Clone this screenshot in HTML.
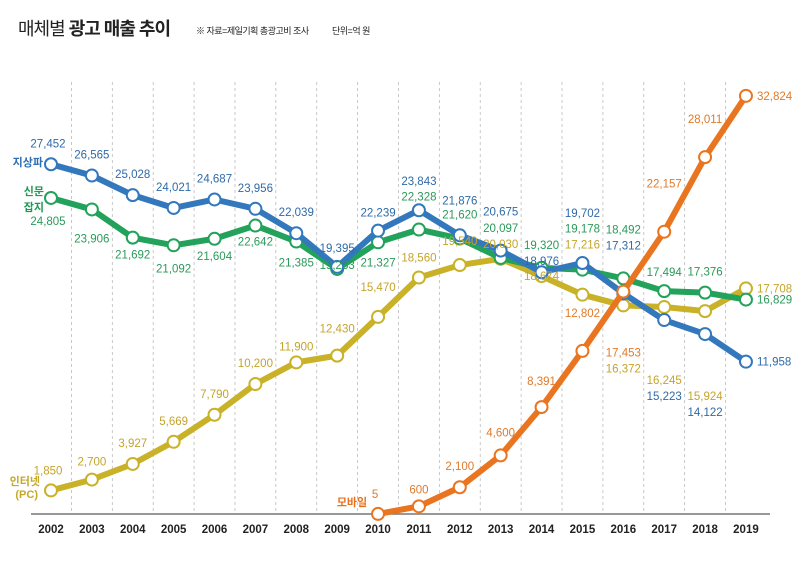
<!DOCTYPE html>
<html><head><meta charset="utf-8"><style>
html,body{margin:0;padding:0;background:#fff;}
body{width:800px;height:566px;overflow:hidden;font-family:"Liberation Sans","Noto Sans CJK KR",sans-serif;}
</style></head><body>
<svg id="chart" width="800" height="566" viewBox="0 0 800 566" xmlns="http://www.w3.org/2000/svg" font-family="Liberation Sans, Noto Sans CJK KR, sans-serif">
<text x="18" y="35" font-size="18" fill="#222" style="letter-spacing:-1px">매체별 <tspan font-weight="bold">광고 매출 추이</tspan></text>
<text x="196" y="34" font-size="9" fill="#222" style="letter-spacing:-0.5px">※ 자료=제일기획 총광고비 조사</text>
<text x="332" y="34" font-size="9" fill="#222" style="letter-spacing:-0.5px">단위=억 원</text>
<g id="grid"></g>
<line x1="31" y1="514" x2="770" y2="514" stroke="#777" stroke-width="1.5"/>
<g id="xticks"></g>
<g id="series"></g>
<g id="labels"></g>
<text x="43" y="166" font-size="11" font-weight="bold" fill="#2f6fb4" text-anchor="end">지상파</text>
<text x="44" y="195" font-size="11" font-weight="bold" fill="#1f9a55" text-anchor="end">신문</text>
<text x="44" y="211" font-size="11" font-weight="bold" fill="#1f9a55" text-anchor="end">잡지</text>
<text x="40" y="485" font-size="11" font-weight="bold" fill="#c4a828" text-anchor="end">인터넷</text>
<text x="38" y="498" font-size="11" font-weight="bold" fill="#c4a828" text-anchor="end">(PC)</text>
<text x="352" y="506" font-size="11" font-weight="bold" fill="#e8731e" text-anchor="middle">모바일</text>
</svg>
<script>
const years = [2002,2003,2004,2005,2006,2007,2008,2009,2010,2011,2012,2013,2014,2015,2016,2017,2018,2019];
const tvValues = [27452,26565,25028,24021,24687,23956,22039,19395,22239,23843,21876,20675,18976,19702,17312,15223,14122,11958];
const printValues = [24805,23906,21692,21092,21604,22642,21385,19233,21327,22328,21620,20097,19320,19178,18492,17494,17376,16829];
const internetValues = [1850,2700,3927,5669,7790,10200,11900,12430,15470,18560,19540,20030,18674,17216,16372,16245,15924,17708];
const mobileYears = [2010,2011,2012,2013,2014,2015,2016,2017,2018,2019];
const mobileValues = [5,600,2100,4600,8391,12802,17453,22157,28011,32824];

// label offsets (dy from point), last point labeled to the right
const tvDy = [-21,-21,-21,-21,-21,-21,-21,-19,-18,-29,-35,-39,-11,-50,-48,76,78,0];
const printDy = [23,29,17,23,17,16,21,-4,20,-33,-24,-30,-23,-41,-49,-19,-21,0];
const internetDy = [-20,-18,-21,-21,-21,-21,-16,-27,-30,-20,-24,-15,0,-50,63,73,85,0];
const mobileDy = [-20,-17,-21,-23,-26,-38,61,-48,-38,0];

const NS = "http://www.w3.org/2000/svg";
const X0 = 51, STEP = 40.88, Y0 = 514, K = 0.01274;
function xPos(year){ return X0 + (year - 2002) * STEP; }
function yPos(v){ return Y0 - v * K; }
function fmt(v){ return v.toLocaleString('en-US'); }

const grid = document.getElementById('grid');
for (let i = 0; i < years.length - 1; i++) {
  const gx = (xPos(years[i]) + xPos(years[i+1])) / 2;
  const l = document.createElementNS(NS,'line');
  
  
  l.setAttribute('x1', gx); l.setAttribute('x2', gx);
  l.setAttribute('y1', 82); l.setAttribute('y2', 514);
  l.setAttribute('stroke', '#bbb'); l.setAttribute('stroke-dasharray', '3,3'); l.setAttribute('stroke-width', '0.8');
  grid.appendChild(l);
}
const xt = document.getElementById('xticks');
years.forEach(y => {
  const t = document.createElementNS(NS,'text');
  
  
  t.setAttribute('x', xPos(y)); t.setAttribute('y', 533);
  t.setAttribute('text-anchor', 'middle'); t.setAttribute('font-size', '11.5'); t.setAttribute('font-weight', 'bold'); t.setAttribute('fill', '#222');
  t.textContent = y;
  xt.appendChild(t);
});

const seriesG = document.getElementById('series');
const labelsG = document.getElementById('labels');
function drawSeries(name, xs, vals, dys, color, textColor){
  const g = document.createElementNS(NS,'g');
  
  
  const pts = xs.map((yr,i) => xPos(yr) + ',' + yPos(vals[i])).join(' ');
  const pl = document.createElementNS(NS,'polyline');
  
  
  pl.setAttribute('points', pts);
  pl.setAttribute('fill', 'none'); pl.setAttribute('stroke', color); pl.setAttribute('stroke-width', '6'); pl.setAttribute('stroke-linejoin', 'round');
  g.appendChild(pl);
  xs.forEach((yr,i) => {
    const c = document.createElementNS(NS,'circle');
    
    
    c.setAttribute('cx', xPos(yr)); c.setAttribute('cy', yPos(vals[i])); c.setAttribute('r', 6);
    c.setAttribute('fill', '#fff'); c.setAttribute('stroke', color); c.setAttribute('stroke-width', '2');
    g.appendChild(c);
    const t = document.createElementNS(NS,'text');
    
    
    const last = i === xs.length - 1;
    t.setAttribute('x', last ? xPos(yr) + 11 : xPos(yr) - (i === 0 ? 3 : 0));
    t.setAttribute('y', yPos(vals[i]) + dys[i] + 4);
    t.setAttribute('text-anchor', last ? 'start' : 'middle');
    t.setAttribute('font-size', '11.5'); t.setAttribute('fill', textColor);
    t.textContent = fmt(vals[i]);
    labelsG.appendChild(t);
  });
  seriesG.appendChild(g);
}
drawSeries('internet', years, internetValues, internetDy, '#c9b227', '#c4a42a');
drawSeries('print', years, printValues, printDy, '#22a25a', '#2a9a5a');
drawSeries('tv', years, tvValues, tvDy, '#3378bd', '#2e6aa8');
drawSeries('mobile', mobileYears, mobileValues, mobileDy, '#ea7520', '#e07a2a');
</script>
</body></html>
